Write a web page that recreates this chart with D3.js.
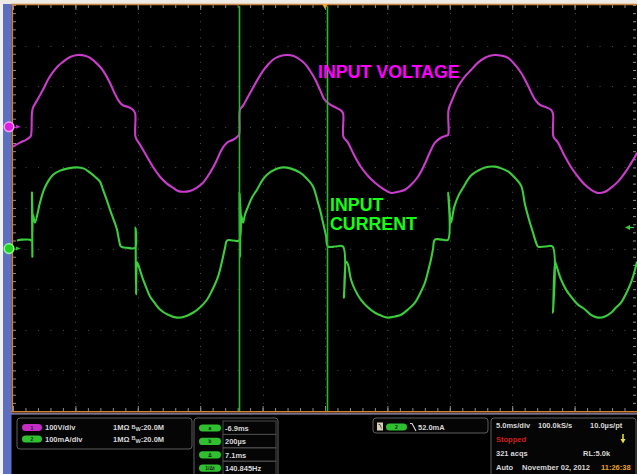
<!DOCTYPE html>
<html>
<head>
<meta charset="utf-8">
<script src="https://cdn.jsdelivr.net/npm/d3@7/dist/d3.min.js"></script>
<style>
html, body { margin: 0; padding: 0; background: #f2f2f2; }
svg { display: block; font-family: "Liberation Sans", Arial, sans-serif; }
</style>
</head>
<body>
<svg id="scope" width="637" height="474"></svg>
<script>
// ch1 : input voltage, time in ms from trigger, volts
var ch1Time = [
  -25.00,-24.44,-23.96,-23.64,-23.56,-23.48,-23.40,-23.00,-22.60,-22.20,
  -21.79,-21.39,-20.99,-20.43,-19.79,-19.23,-18.83,-18.43,-18.03,-17.63,
  -17.23,-16.91,-16.59,-16.35,-16.11,-15.79,-15.46,-15.22,-15.18,-14.82,
  -14.26,-13.78,-13.22,-12.74,-12.18,-11.78,-11.38,-10.82,-10.26,-9.78,
  -9.21,-8.73,-8.33,-8.09,-7.77,-7.37,-7.05,-6.89,-6.81,-6.57,
  -6.17,-5.77,-5.37,-4.97,-4.57,-4.09,-3.53,-3.04,-2.56,-2.08,
  -1.60,-1.20,-0.80,-0.40,-0.08,0.24,0.56,0.88,1.20,1.44,
  1.48,1.84,2.32,2.88,3.45,4.01,4.65,5.29,5.85,6.41,
  6.89,7.45,7.93,8.49,8.81,9.29,9.70,9.86,9.90,10.26,
  10.66,11.14,11.70,12.26,12.82,13.22,13.62,14.18,14.66,15.22,
  15.71,16.27,16.83,17.23,17.63,18.11,18.27,18.31,18.67,19.15,
  19.71,20.27,20.83,21.31,21.88,22.44,22.92,23.48,24.04,24.44,
  24.84,25.00
];
var ch1Volts = [
  -49,-39,-32,-25,-22,34,47,69,91,116,
  135,150,160,172,177,175,170,160,148,131,
  108,86,67,57,52,49,44,34,-25,-44,
  -74,-99,-123,-138,-150,-158,-160,-158,-150,-138,
  -113,-86,-59,-47,-37,-32,-25,-20,42,52,
  74,96,118,138,153,167,175,177,175,167,
  155,138,118,91,69,59,52,47,42,34,
  -25,-39,-69,-99,-121,-138,-153,-163,-160,-155,
  -143,-123,-96,-57,-39,-27,-22,-20,42,71,
  99,121,140,158,170,175,177,175,170,153,
  133,101,67,54,49,42,32,-25,-39,-69,
  -99,-123,-143,-155,-163,-160,-150,-135,-113,-94,
  -74,-64
];

// ch2 : input current, time in ms from trigger, mA
var ch2Time = [
  -24.68,-24.28,-23.64,-23.52,-23.48,-23.45,-23.40,-23.24,-22.84,-22.52,
  -22.20,-21.79,-21.23,-20.67,-19.87,-19.31,-18.83,-18.43,-18.03,-17.79,
  -17.47,-17.23,-16.91,-16.67,-16.51,-16.35,-15.87,-15.22,-15.18,-15.14,
  -15.06,-14.98,-14.58,-14.26,-14.02,-13.62,-13.22,-12.58,-11.86,-11.22,
  -10.58,-10.02,-9.46,-9.05,-8.65,-8.41,-8.17,-8.01,-7.85,-7.37,
  -6.89,-6.85,-6.81,-6.73,-6.57,-6.41,-6.17,-5.85,-5.45,-5.05,
  -4.65,-4.01,-3.37,-2.72,-2.00,-1.44,-0.96,-0.56,-0.40,-0.16,
  0.08,0.24,0.80,1.44,1.52,1.68,1.84,2.08,2.40,2.88,
  3.45,4.01,4.49,5.05,5.61,6.09,6.65,7.21,7.61,8.01,
  8.25,8.49,8.65,8.81,9.38,9.86,9.88,10.10,10.34,10.66,
  11.06,11.70,12.26,12.82,13.62,14.18,14.66,15.14,15.71,16.03,
  16.35,16.67,16.91,17.07,17.63,18.23,18.27,18.43,18.51,18.91,
  19.31,19.71,20.27,20.83,21.31,21.88,22.44,22.92,23.32,23.72,
  24.12,24.52,24.84,25.00
];
var ch2mA = [
  20,22,22,20,138,-20,84,64,113,145,
  165,182,192,197,200,197,187,177,165,145,
  118,96,69,47,22,5,2,2,52,-113,
  -34,-39,-76,-101,-118,-135,-150,-163,-170,-167,
  -158,-145,-126,-103,-76,-52,-20,2,20,20,
  20,138,-20,84,64,84,103,126,145,167,
  182,195,200,197,187,172,153,113,96,64,
  32,5,5,5,-121,-32,-39,-76,-101,-126,
  -145,-158,-165,-170,-167,-163,-150,-133,-111,-84,
  -57,-27,-2,22,22,22,138,64,101,128,
  150,180,192,200,202,197,190,177,155,108,
  71,39,15,5,5,5,-158,-32,-39,-76,
  -101,-118,-138,-150,-163,-170,-167,-158,-145,-133,
  -111,-84,-52,-32
];

// scope settings
var timePerDiv = 5;              // ms/div
var ch1PerDiv = 100, ch1Pos = 2;  // V/div, divisions above centre
var ch2PerDiv = 100, ch2Pos = -1; // mA/div
var cursorTimes = [-6.9, 0.2];
var triggerLevel = 52;           // mA on ch2

var channelRows = [["1", "100V/div"], ["2", "100mA/div"]];
var cursorRows = [["a", "-6.9ms"], ["b", "200µs"], ["Δ", "7.1ms"], ["1/Δt", "140.845Hz"]];

var svg = d3.select("#scope");
var W = 637, H = 474;
var plot = {left: 13, right: 637, top: 5, bottom: 411};

var x = d3.scaleLinear().domain([-5 * timePerDiv, 5 * timePerDiv]).range([plot.left, plot.right]);
var yV = d3.scaleLinear().domain([(-5 - ch1Pos) * ch1PerDiv, (5 - ch1Pos) * ch1PerDiv]).range([plot.bottom, plot.top]);
var yI = d3.scaleLinear().domain([(-5 - ch2Pos) * ch2PerDiv, (5 - ch2Pos) * ch2PerDiv]).range([plot.bottom, plot.top]);

// backgrounds
svg.append("rect").attr("x", 11).attr("y", 4).attr("width", W - 11).attr("height", H - 4).attr("fill", "#000");
svg.append("rect").attr("x", 3).attr("y", 4).attr("width", 8.5).attr("height", H - 4).attr("fill", "#5d6fc2");

// grid
var majorTimes = d3.range(-25, 25.001, timePerDiv);
var minorTimes = d3.range(-25, 25.001, 1);
var majorVolts = d3.range(yV.domain()[0], yV.domain()[1] + 0.1, ch1PerDiv);
var minorVolts = d3.range(yV.domain()[0], yV.domain()[1] + 0.1, ch1PerDiv / 5);

var grid = svg.append("g").attr("class", "grid");
grid.selectAll("line.v").data(majorTimes.slice(1, -1)).join("line")
    .attr("class", "v")
    .attr("x1", function (d) { return Math.round(x(d)) + 0.5; }).attr("x2", function (d) { return Math.round(x(d)) + 0.5; })
    .attr("y1", plot.top).attr("y2", plot.bottom)
    .attr("stroke", "#4d4d4d").attr("stroke-dasharray", "1,7.12");
grid.selectAll("line.h").data(majorVolts.slice(1, -1)).join("line")
    .attr("class", "h")
    .attr("x1", plot.left).attr("x2", plot.right)
    .attr("y1", function (d) { return Math.round(yV(d)) + 0.5; }).attr("y2", function (d) { return Math.round(yV(d)) + 0.5; })
    .attr("stroke", "#4d4d4d").attr("stroke-dasharray", "1,11.48");

// edge ticks with the axis helpers
function edge(axis, tx, ty) {
    var g = svg.append("g").attr("transform", "translate(" + tx + "," + ty + ")")
        .attr("color", "#8c8c8c").call(axis);
    g.select(".domain").remove();
    g.selectAll("text").remove();
    return g;
}
edge(d3.axisBottom(x).tickValues(minorTimes).tickSize(3).tickFormat(""), 0, plot.top);
edge(d3.axisBottom(x).tickValues(majorTimes).tickSize(5).tickFormat(""), 0, plot.top);
edge(d3.axisTop(x).tickValues(minorTimes).tickSize(3).tickFormat(""), 0, plot.bottom);
edge(d3.axisTop(x).tickValues(majorTimes).tickSize(5).tickFormat(""), 0, plot.bottom);
edge(d3.axisRight(yV).tickValues(minorVolts).tickSize(3).tickFormat(""), plot.left, 0);
edge(d3.axisLeft(yV).tickValues(minorVolts).tickSize(3).tickFormat(""), plot.right - 1, 0);

// frame
svg.append("rect").attr("x", 0).attr("y", 0).attr("width", W).attr("height", 4).attr("fill", "#eeeae4");
svg.append("line").attr("x1", 11).attr("x2", W).attr("y1", 4.5).attr("y2", 4.5).attr("stroke", "#c7823e").attr("stroke-width", 1.5);
svg.append("line").attr("x1", 12.3).attr("x2", 12.3).attr("y1", 4).attr("y2", 412).attr("stroke", "#d0843a").attr("stroke-width", 1.6);
svg.append("line").attr("x1", 11).attr("x2", W).attr("y1", 411.7).attr("y2", 411.7).attr("stroke", "#d0843a").attr("stroke-width", 1.4);
svg.append("line").attr("x1", 11).attr("x2", W).attr("y1", 413.8).attr("y2", 413.8).attr("stroke", "#9d9cc4").attr("stroke-width", 1.3);

// traces
svg.append("defs").append("clipPath").attr("id", "clip")
    .append("rect").attr("x", plot.left).attr("y", plot.top)
    .attr("width", plot.right - plot.left).attr("height", plot.bottom - plot.top);

var ch1Data = ch1Time.map(function (t, i) { return [t, ch1Volts[i]]; });
var ch2Data = ch2Time.map(function (t, i) { return [t, ch2mA[i]]; });

var lineV = d3.line().x(function (d) { return x(d[0]); }).y(function (d) { return yV(d[1]); })
    .curve(d3.curveCatmullRom.alpha(0.5));
var lineI = d3.line().x(function (d) { return x(d[0]); }).y(function (d) { return yI(d[1]); })
    .curve(d3.curveCatmullRom.alpha(0.5));

var traces = svg.append("g").attr("clip-path", "url(#clip)");
traces.append("path").datum(ch2Data).attr("d", lineI)
    .attr("fill", "none").attr("stroke", "#3ccd3c").attr("stroke-width", 2.1).attr("stroke-linejoin", "round");
traces.append("path").datum(ch1Data).attr("d", lineV)
    .attr("fill", "none").attr("stroke", "#cc3ccc").attr("stroke-width", 2.1).attr("stroke-linejoin", "round");

// cursors
svg.selectAll("line.cursor").data(cursorTimes).join("line")
    .attr("class", "cursor")
    .attr("x1", function (d) { return Math.round(x(d)) + 0.5; }).attr("x2", function (d) { return Math.round(x(d)) + 0.5; })
    .attr("y1", plot.top + 1).attr("y2", plot.bottom)
    .attr("stroke", "#2cb82c").attr("stroke-width", 1.6);

// trigger position and level markers
svg.append("path").attr("d", "M" + (x(0) - 3) + ",4 L" + (x(0) + 3) + ",4 L" + x(0) + ",9 Z").attr("fill", "#f0a428");
var yt = yI(triggerLevel);
svg.append("path").attr("d", "M625," + yt + " L630," + (yt - 2.5) + " L630," + (yt + 2.5) + " Z").attr("fill", "#3ccd3c");
svg.append("line").attr("x1", 629).attr("x2", 634).attr("y1", yt).attr("y2", yt).attr("stroke", "#3ccd3c").attr("stroke-width", 1.2);

// channel ground markers
function groundMarker(yy, fill, ring) {
    svg.append("circle").attr("cx", 9).attr("cy", yy).attr("r", 4.8)
        .attr("fill", fill).attr("stroke", ring).attr("stroke-width", 1.5);
    svg.append("path").attr("d", "M16," + (yy - 2) + " L20.5," + yy + " L16," + (yy + 2) + " Z").attr("fill", fill);
}
groundMarker(yV(0), "#e01ee0", "#ff9cff");
groundMarker(yI(0), "#22d022", "#8cff8c");

// labels
svg.append("text").attr("x", 318).attr("y", 78).attr("fill", "#ff00ff")
    .style("font-size", "17.8px").style("font-weight", "bold").text("INPUT VOLTAGE");
svg.append("text").attr("x", 330).attr("y", 211).attr("fill", "#14ff14")
    .style("font-size", "17.8px").style("font-weight", "bold").text("INPUT");
svg.append("text").attr("x", 330).attr("y", 230).attr("fill", "#14ff14")
    .style("font-size", "17.8px").style("font-weight", "bold").text("CURRENT");

// status panel
var panel = svg.append("g").attr("fill", "#d8d8d8")
    .style("font-size", "7.5px").style("font-weight", "bold");

function box(bx, by, bw, bh) {
    panel.append("rect").attr("x", bx).attr("y", by).attr("width", bw).attr("height", bh)
        .attr("rx", 3).attr("fill", "#050505").attr("stroke", "#5e5e5e").attr("stroke-width", 1);
}
function pill(cx, cy, w, fill, label) {
    panel.append("rect").attr("x", cx - w / 2).attr("y", cy - 3.6).attr("width", w).attr("height", 7.2)
        .attr("rx", 3.6).attr("fill", fill);
    panel.append("text").attr("x", cx).attr("y", cy + 2).attr("text-anchor", "middle")
        .attr("fill", "#1a1a1a").style("font-size", "5px").text(label);
}

box(17, 418, 175, 31);
box(194, 418, 84, 64);
box(373, 418, 115, 15);
box(491, 418, 145, 64);

channelRows.forEach(function (r, i) {
    var cy = 427.5 + i * 11.5;
    pill(32, cy, 20, i === 0 ? "#c62cc6" : "#2fbf2f", r[0]);
    panel.append("text").attr("x", 45).attr("y", cy + 2.7).text(r[1]);
    var t = panel.append("text").attr("x", 113).attr("y", cy + 2.7);
    t.append("tspan").text("1MΩ ");
    t.append("tspan").style("font-size", "5.5px").attr("dy", -1.5).text("B");
    t.append("tspan").style("font-size", "5.5px").attr("dy", 2.5).text("W");
    t.append("tspan").attr("dy", -1).text(":20.0M");
});

cursorRows.forEach(function (r, i) {
    var cy = 428 + i * 13.4;
    pill(210, cy, 22, "#2fbf2f", r[0]);
    panel.append("rect").attr("x", 223).attr("y", cy - 7).attr("width", 53).attr("height", 13.4)
        .attr("fill", "none").attr("stroke", "#4a4a4a");
    panel.append("text").attr("x", 225).attr("y", cy + 2.7).text(r[1]);
});

panel.append("rect").attr("x", 377).attr("y", 422.5).attr("width", 6).attr("height", 8).attr("fill", "#d9cfb4");
panel.append("path").attr("d", "M378.5,424.5 L380,424.5 L381.5,428.5").attr("fill", "none").attr("stroke", "#333").attr("stroke-width", 0.8);
pill(396.5, 427, 21, "#2fbf2f", "2");
panel.append("path").attr("d", "M410,423.5 L412,423.5 L416,431").attr("fill", "none").attr("stroke", "#d8d8d8").attr("stroke-width", 1.1);
panel.append("text").attr("x", 418).attr("y", 430).text(triggerLevel.toFixed(1) + "mA");

panel.append("text").attr("x", 496).attr("y", 428).text("5.0ms/div");
panel.append("text").attr("x", 538).attr("y", 428).text("100.0kS/s");
panel.append("text").attr("x", 590).attr("y", 428).text("10.0µs/pt");
panel.append("text").attr("x", 496).attr("y", 442).attr("fill", "#d41c1c").text("Stopped");
panel.append("line").attr("x1", 623).attr("x2", 623).attr("y1", 434).attr("y2", 440).attr("stroke", "#f0e040").attr("stroke-width", 1.5);
panel.append("path").attr("d", "M620.5,439 L625.5,439 L623,443.5 Z").attr("fill", "#f0e040");
panel.append("text").attr("x", 496).attr("y", 456).text("321 acqs");
panel.append("text").attr("x", 583).attr("y", 456).text("RL:5.0k");
panel.append("text").attr("x", 496).attr("y", 470).text("Auto");
panel.append("text").attr("x", 522).attr("y", 470).text("November 02, 2012");
panel.append("text").attr("x", 601).attr("y", 470).attr("fill", "#e8a020").text("11:26:38");
</script>
</body>
</html>
